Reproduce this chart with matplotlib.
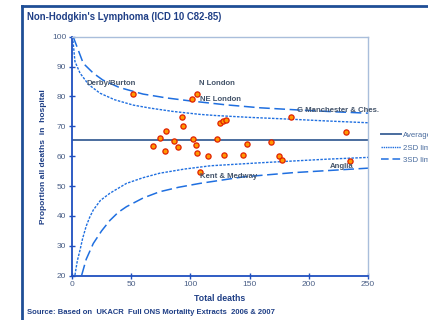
import numpy as np
import matplotlib.pyplot as plt
from matplotlib.lines import Line2D

# cancer network results: total deaths vs % of deaths in hospital
deaths = [51.8, 105.3, 101.4, 92.7, 93.8, 79.4, 74.4, 86.1, 102.2, 68.2,
          89.3, 78.3, 104.5, 105.3, 115.1, 108.1, 125.0, 127.3, 130.1, 185.2,
          122.2, 148.1, 168.0, 128.1, 144.2, 175.1, 177.7, 231.4, 235.0]
pct_hosp = [80.7, 80.9, 79.1, 73.1, 70.2, 68.3, 66.2, 65.2, 65.7, 63.3,
            63.0, 61.6, 63.6, 61.0, 60.2, 54.7, 71.2, 71.7, 72.2, 73.0,
            65.7, 64.2, 64.9, 60.3, 60.5, 60.1, 58.7, 68.0, 58.5]

average = 65.4

# funnel limits
up2_n = [0.5, 2.5, 6.8, 14, 23.6, 36, 51.8, 66, 85, 108, 122, 150, 184, 215, 250]
up2_v = [100, 91.7, 87.8, 84.0, 81.1, 78.9, 77.1, 76.1, 75.0, 74.0, 73.6, 73.0, 72.4, 71.8, 71.2]
up3_n = [1, 9.5, 18, 26, 40, 60, 80, 100, 130, 159, 190, 220, 250]
up3_v = [100, 91.1, 87.8, 85.5, 83.0, 80.8, 79.5, 78.5, 77.2, 76.2, 75.5, 74.9, 74.4]
lo2_n = [2.5, 4.5, 6.8, 9, 12, 15, 18, 24, 32, 46, 60, 74, 95, 117, 159, 215, 250]
lo2_v = [20.2, 25.0, 28.6, 32.5, 36.6, 39.6, 42.0, 45.2, 47.6, 50.9, 52.8, 54.3, 55.7, 56.8, 57.8, 59.0, 59.6]
lo3_n = [8.2, 12, 18, 25, 32, 39, 46, 60, 74, 90, 108, 145, 187, 250]
lo3_v = [20.2, 25.5, 30.8, 35.0, 38.5, 41.2, 43.1, 46.0, 48.1, 49.6, 50.9, 53.1, 54.5, 56.0]

# network labels (text, x, y)
net_names = ['Derby/Burton', 'N London', 'NE London', 'G Manchester & Ches.',
             'Kent & Medway', 'Anglia']
net_x = [12.4, 107, 108, 190, 108, 218]
net_y = [84.4, 84.4, 79.0, 75.2, 53.3, 56.5]

plt.rcParams['font.family'] = ['Liberation Sans', 'DejaVu Sans']

fig = plt.figure(figsize=(4.28, 3.20), dpi=100)
ax = fig.add_axes([0.1682, 0.1384, 0.6916, 0.7469])

navy = '#1F3F86'
curve = '#1F6FE0'
txt = '#44546A'

ax.axhline(average, color='#4A6C9E', lw=1.4, zorder=2)
ax.plot(up2_n, up2_v, color=curve, lw=1.0, ls=(0, (1.8, 1.0)), zorder=2)
ax.plot(lo2_n, lo2_v, color=curve, lw=1.0, ls=(0, (1.8, 1.0)), zorder=2)
ax.plot(up3_n, up3_v, color=curve, lw=1.1, ls=(0, (7, 3)), zorder=2)
ax.plot(lo3_n, lo3_v, color=curve, lw=1.1, ls=(0, (7, 3)), zorder=2)

ax.scatter(deaths, pct_hosp, s=14, c='#FF9900', edgecolors='#E02000',
           linewidths=0.9, zorder=3)

for name, x, y in zip(net_names, net_x, net_y):
    ax.text(x, y, name, fontsize=5.6, color=txt, fontweight='bold',
            va='center', ha='left', zorder=4)

ax.set_xlim(0, 250)
ax.set_ylim(20, 100)
ax.set_xticks(range(0, 251, 50))
ax.set_yticks(range(20, 101, 10))
ax.tick_params(axis='both', direction='inout', length=4, width=1,
               color='#1F4FBF', labelsize=6, labelcolor='#4A5F86', pad=2)
for side in ['left', 'bottom']:
    ax.spines[side].set_color('#1F4FBF')
    ax.spines[side].set_linewidth(1.3)
for side in ['top', 'right']:
    ax.spines[side].set_color('#A9BEDB')
    ax.spines[side].set_linewidth(1.0)

ax.set_xlabel('Total deaths', fontsize=6.3, fontweight='bold', color=navy, labelpad=4)
ax.set_ylabel('Proportion all deaths  in  hospital', fontsize=6.0, fontweight='bold',
              color=navy, labelpad=4)

handles = [Line2D([], [], color='#4A6C9E', lw=1.4),
           Line2D([], [], color=curve, lw=1.0, ls=(0, (1.0, 0.6))),
           Line2D([], [], color=curve, lw=1.1, ls=(0, (5, 2.5)))]
ax.legend(handles, ['Average', '2SD limit', '3SD limit'], loc='center left',
          bbox_to_anchor=(1.02, 0.535), frameon=False, fontsize=5.6,
          labelcolor='#4A6C9E', handlelength=2.6, handletextpad=0.3,
          labelspacing=0.65)

fig.text(27 / 428, 1 - 17 / 320, "Non-Hodgkin's Lymphoma (ICD 10 C82-85)",
         fontsize=6.95, fontweight='bold', color=navy, va='center', ha='left')
fig.text(27 / 428, 1 - 312 / 320,
         'Source: Based on  UKACR  Full ONS Mortality Extracts  2006 & 2007',
         fontsize=5.5, fontweight='bold', color=navy, va='center', ha='left')

# outer frame
fig.add_artist(Line2D([22 / 428, 22 / 428], [0, 1 - 6 / 320],
                      transform=fig.transFigure, color='#1F4E96', lw=2.0))
fig.add_artist(Line2D([22 / 428, 1], [1 - 6 / 320, 1 - 6 / 320],
                      transform=fig.transFigure, color='#1F4E96', lw=2.0))

fig.savefig('out.png', dpi=100)
